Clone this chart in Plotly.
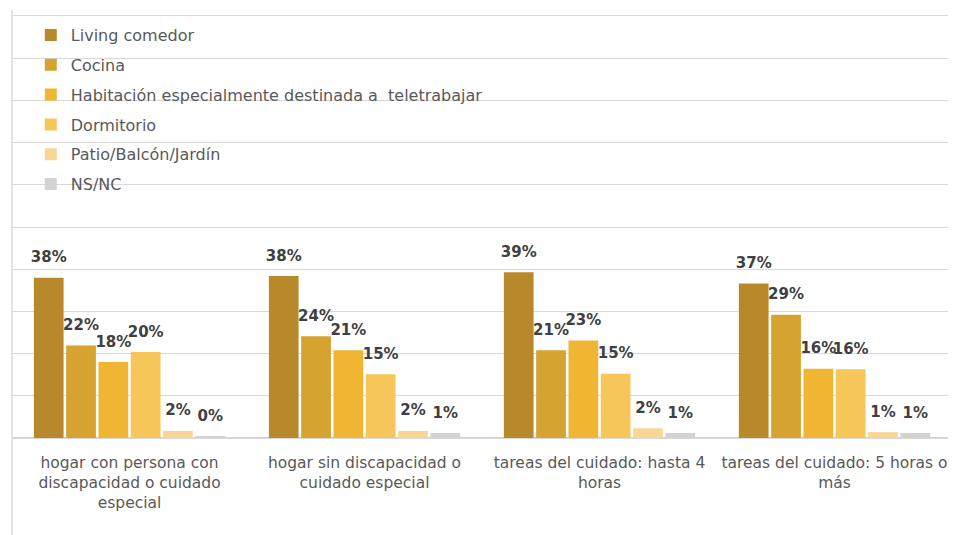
import plotly.graph_objects as go

categories = [
    "hogar con persona con<br>discapacidad o cuidado<br>especial",
    "hogar sin discapacidad o<br>cuidado especial",
    "tareas del cuidado: hasta 4<br>horas",
    "tareas del cuidado: 5 horas o<br>más",
]

series_names = [
    "Living comedor",
    "Cocina",
    "Habitación especialmente destinada a  teletrabajar",
    "Dormitorio",
    "Patio/Balcón/Jardín",
    "NS/NC",
]

living = [38.0, 38.4, 39.3, 36.6]
cocina = [21.9, 24.1, 20.8, 29.2]
habitacion = [18.0, 20.8, 23.1, 16.4]
dormitorio = [20.4, 15.1, 15.2, 16.3]
patio = [1.7, 1.7, 2.3, 1.4]
nsnc = [0.45, 1.2, 1.2, 1.2]

colors = ["#B8892A", "#D6A230", "#EFB533", "#F6C65A", "#F9D696", "#D2D2D2"]

series_values = [living, cocina, habitacion, dormitorio, patio, nsnc]

FONT = "DejaVu Sans"

fig = go.Figure()
for i, (name, vals) in enumerate(zip(series_names, series_values)):
    fig.add_trace(go.Bar(
        name=name,
        x=categories,
        y=vals,
        marker=dict(color=colors[i], line=dict(width=0)),
        legendgroup=f"g{i}",
        texttemplate="<span style='font-size:15px'><b>%{y:.0f}%</b></span><br> ",
        textposition="outside",
        textfont=dict(family=FONT, size=8, color="#404040"),
        constraintext="none",
        cliponaxis=False,
        hoverinfo="skip",
    ))

# page body has an 8px default margin, so the figure is sized to fit the window
fig.update_layout(
    width=948,
    height=527,
    margin=dict(l=4, r=4, t=8, b=97, autoexpand=False),
    paper_bgcolor="white",
    plot_bgcolor="white",
    barmode="group",
    bargap=0.175,
    bargroupgap=0.08,
    font=dict(family=FONT, size=16, color="#595959"),
    showlegend=True,
    legend=dict(
        x=0.02, y=0.995, xanchor="left", yanchor="top",
        orientation="v",
        traceorder="grouped",
        tracegroupgap=6,
        bgcolor="rgba(0,0,0,0)",
        font=dict(family=FONT, size=16, color="#595959"),
    ),
    xaxis=dict(
        showgrid=False,
        showline=True,
        mirror=True,
        linecolor="#D9D9D9",
        linewidth=1.4,
        ticks="",
        automargin=False,
        tickfont=dict(family=FONT, size=15.5, color="#595959"),
        ticklabelstandoff=10,
    ),
    yaxis=dict(
        range=[0, 100],
        dtick=10,
        automargin=False,
        showgrid=True,
        gridcolor="#D9D9D9",
        gridwidth=1.4,
        zeroline=True,
        zerolinecolor="#D0D0D0",
        zerolinewidth=1.6,
        showticklabels=False,
        ticks="",
        showline=False,
    ),
    shapes=[dict(
        type="line", xref="paper", yref="paper",
        x0=0, x1=0, y0=-0.23, y1=1.015,
        line=dict(color="#D9D9D9", width=1.4),
    )],
)

fig.write_html("out.html")
